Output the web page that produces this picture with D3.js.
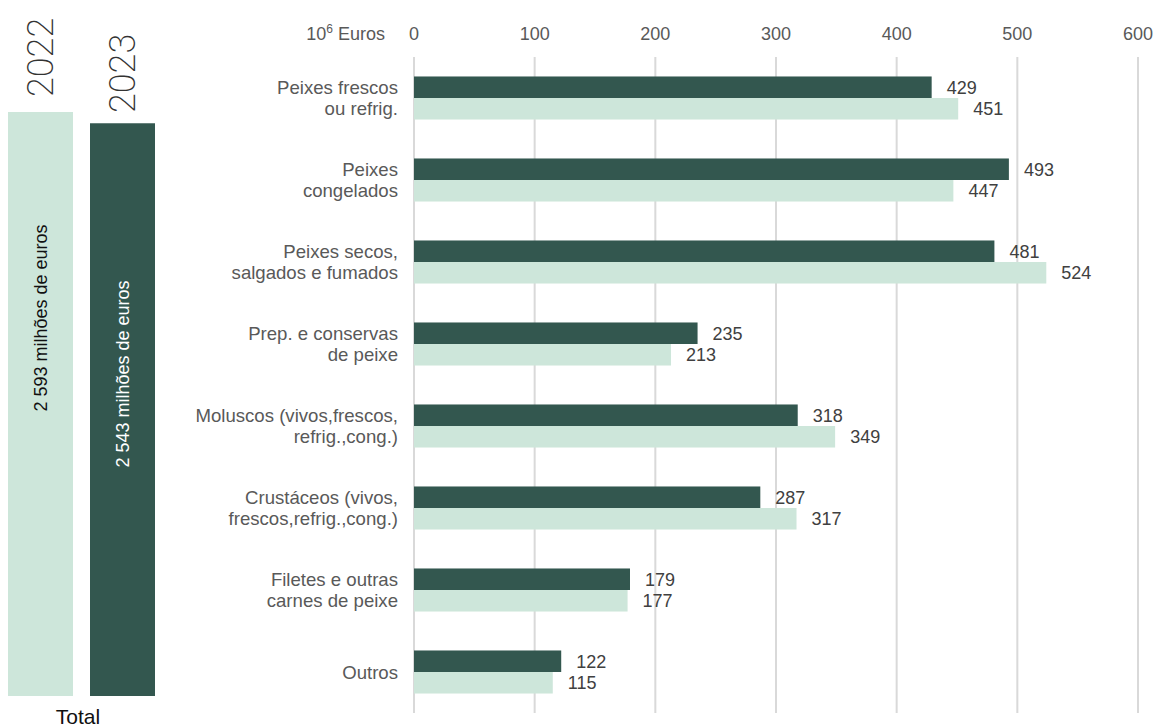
<!DOCTYPE html>
<html><head><meta charset="utf-8">
<script src="https://cdn.jsdelivr.net/npm/d3@7"></script>
<style>
body{margin:0;background:#fff;}
svg{display:block;font-family:"Liberation Sans",Arial,sans-serif;}
</style></head>
<body><svg id="c" width="1156" height="727"></svg>
<script>
const categories = [
  ["Peixes frescos","ou refrig."],
  ["Peixes","congelados"],
  ["Peixes secos,","salgados e fumados"],
  ["Prep. e conservas","de peixe"],
  ["Moluscos (vivos,frescos,","refrig.,cong.)"],
  ["Crustáceos (vivos,","frescos,refrig.,cong.)"],
  ["Filetes e outras","carnes de peixe"],
  ["Outros"]
];
const values2023 = [429,493,481,235,318,287,179,122];
const values2022 = [451,447,524,213,349,317,177,115];
const xTicks = [0,100,200,300,400,500,600];
const totalYears = ["2022","2023"];
const totalValues = [2593,2543];
const totalLabels = ["2 593 milhões de euros","2 543 milhões de euros"];

const DARK = "#33574F", LIGHT = "#CDE6DA", GREY = "#595959";
const FS = 18;
const svg = d3.select("#c");

// main chart scales
const x = d3.scaleLinear().domain([0,600]).range([414,1138]);
const keys = categories.map((c,i)=>i);
const y = d3.scaleBand().domain(keys).range([57,713]).paddingInner(0.475).paddingOuter(0.2375);
const series = ["2023","2022"];
const ys = d3.scaleBand().domain(series).range([0,y.bandwidth()]);
const color = {"2023":DARK,"2022":LIGHT};

// gridlines
svg.append("g").selectAll("line").data(xTicks).join("line")
  .attr("x1",d=>x(d)).attr("x2",d=>x(d)).attr("y1",57).attr("y2",713)
  .attr("stroke","#d9d9d9").attr("stroke-width",2);

// tick labels
svg.append("g").selectAll("text").data(xTicks).join("text")
  .attr("x",d=>x(d)).attr("y",40).attr("text-anchor","middle")
  .attr("font-size",FS).attr("fill",GREY).text(d=>d);
svg.append("text").attr("x",385).attr("y",40).attr("text-anchor","end")
  .attr("font-size",FS).attr("fill",GREY)
  .html('10<tspan font-size="12" dy="-7">6</tspan><tspan dy="7"> Euros</tspan>');

// bars
const rows = keys.map(i=>({i, vals:[{s:"2023",v:values2023[i]},{s:"2022",v:values2022[i]}]}));
const g = svg.append("g").selectAll("g").data(rows).join("g")
  .attr("transform",d=>`translate(0,${y(d.i)})`);
g.selectAll("rect").data(d=>d.vals).join("rect")
  .attr("x",x(0)).attr("y",d=>ys(d.s)).attr("width",d=>x(d.v)-x(0)).attr("height",ys.bandwidth())
  .attr("fill",d=>color[d.s]);
g.selectAll("text.v").data(d=>d.vals).join("text").attr("class","v")
  .attr("x",d=>x(d.v)+15).attr("y",d=>ys(d.s)+ys.bandwidth()/2).attr("dy","0.36em")
  .attr("font-size",FS).attr("fill","#404040").text(d=>d.v);

// category labels
g.each(function(d){
  const lines = categories[d.i];
  const sel = d3.select(this);
  const bw = y.bandwidth();
  const ypos = lines.length===1 ? [bw/2] : [ys.bandwidth()/2, ys.bandwidth()*1.5];
  lines.forEach((t,k)=>{
    sel.append("text").attr("x",398).attr("y",ypos[k]).attr("dy","0.36em")
      .attr("text-anchor","end").attr("font-size",18.6).attr("fill",GREY).text(t);
  });
});

// total bars
const ty = d3.scaleLinear().domain([0,2593]).range([696,112]);
const tx = d3.scaleBand().domain(totalYears).range([8,155]).paddingInner(0.2073);
const tcol = {"2022":LIGHT,"2023":DARK};
const tdata = totalYears.map((yr,i)=>({yr,v:totalValues[i],lab:totalLabels[i]}));
svg.append("g").selectAll("rect").data(tdata).join("rect")
  .attr("x",d=>tx(d.yr)).attr("width",tx.bandwidth())
  .attr("y",d=>ty(d.v)).attr("height",d=>ty(0)-ty(d.v))
  .attr("fill",d=>tcol[d.yr]);
// year labels
const yearStart = {"2022":97,"2023":113};
svg.append("g").selectAll("text").data(tdata).join("text")
  .attr("transform",d=>`translate(${tx(d.yr)+tx.bandwidth()/2+12.5},${yearStart[d.yr]}) rotate(-90)`)
  .attr("font-family","Roboto, 'Open Sans', sans-serif").attr("font-weight",200)
  .attr("font-size",36).attr("fill","#333").text(d=>d.yr);
// inner labels
const innerCenter = {"2022":318,"2023":374};
svg.append("g").selectAll("text").data(tdata).join("text")
  .attr("transform",d=>`translate(${tx(d.yr)+tx.bandwidth()/2+6.5},${innerCenter[d.yr]}) rotate(-90)`)
  .attr("text-anchor","middle").attr("font-size",FS)
  .attr("fill",d=>d.yr==="2023"?"#fff":"#111").text(d=>d.lab);
svg.append("text").attr("x",78).attr("y",724).attr("text-anchor","middle")
  .attr("font-size",21).attr("fill","#111").text("Total");
</script></body></html>
